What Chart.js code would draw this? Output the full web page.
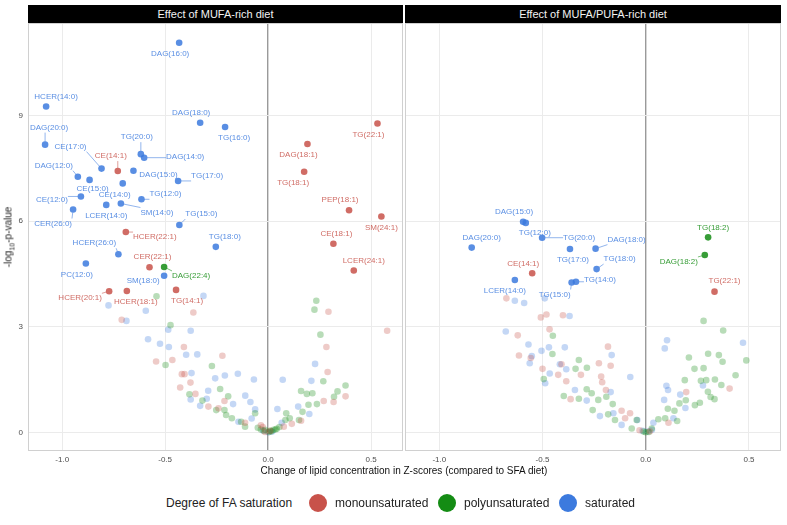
<!DOCTYPE html>
<html>
<head>
<meta charset="utf-8">
<script src="https://cdn.jsdelivr.net/npm/chart.js@4.4.1/dist/chart.umd.min.js"></script>
<style>
  body { margin: 0; width: 787px; height: 525px; background: #fff; overflow: hidden; position: relative;
         font-family: "Liberation Sans", Arial, sans-serif; }
  canvas { position: absolute; top: 23px; }
  .strip { position: absolute; top: 5px; height: 18px; line-height: 18px; background: #000; color: #f2f2f2;
           font-size: 11px; text-align: center; }
  .ytitle { position: absolute; left: 9px; top: 237px; transform: translate(-50%, -50%) rotate(-90deg);
            font-size: 10px; font-weight: normal; color: #222; white-space: nowrap; }
  .xtitle { position: absolute; left: 404px; top: 465px; transform: translateX(-50%); font-size: 10px;
            color: #111; white-space: nowrap; }
  .leg { position: absolute; top: 503px; transform: translateY(-50%); font-size: 12px; color: #222; white-space: nowrap; }
  .dot { position: absolute; top: 503px; width: 18px; height: 18px; border-radius: 50%; transform: translate(-50%, -50%); }
</style>
</head>
<body>
<div class="strip" style="left:28px;width:375px">Effect of MUFA-rich diet</div>
<div class="strip" style="left:405px;width:376px">Effect of MUFA/PUFA-rich diet</div>
<canvas id="mufa-chart" width="403" height="447" style="left:0;width:403px;height:447px"></canvas>
<canvas id="pufa-chart" width="376" height="447" style="left:405px;width:376px;height:447px"></canvas>
<div class="ytitle">-log<sub style="font-size:7px">10</sub>-p-value</div>
<div class="xtitle">Change of lipid concentration in Z-scores (compared to SFA diet)</div>
<div class="leg" style="left:166px">Degree of FA saturation</div>
<div class="dot" style="left:318px;background:rgb(200,82,74)"></div>
<div class="leg" style="left:335px">monounsaturated</div>
<div class="dot" style="left:447px;background:rgb(20,140,20)"></div>
<div class="leg" style="left:464px">polyunsaturated</div>
<div class="dot" style="left:568px;background:rgb(60,122,222)"></div>
<div class="leg" style="left:585px">saturated</div>

<script>
// axis ticks
const xTicks = [-1.0, -0.5, 0.0, 0.5];
const yTicks = [0, 3, 6, 9];

// MUFA-rich diet: labelled lipids
const mufaNames = ['DAG(16:0)', 'HCER(14:0)', 'DAG(18:0)', 'TG(16:0)', 'TG(22:1)', 'DAG(20:0)', 'DAG(18:1)',
    'TG(20:0)', 'DAG(14:0)', 'CE(17:0)', 'CE(14:1)', 'DAG(15:0)', 'TG(17:0)', 'TG(18:1)', 'DAG(12:0)',
    'CE(15:0)', 'CE(14:0)', 'CE(12:0)', 'TG(12:0)', 'LCER(14:0)', 'SM(14:0)', 'CER(26:0)', 'PEP(18:1)',
    'SM(24:1)', 'TG(15:0)', 'HCER(22:1)', 'TG(18:0)', 'CE(18:1)', 'HCER(26:0)', 'LCER(24:1)', 'PC(12:0)',
    'CER(22:1)', 'DAG(22:4)', 'SM(18:0)', 'HCER(20:1)', 'HCER(18:1)', 'TG(14:1)'];
const mufaX = [-0.432, -1.078, -0.330, -0.209, 0.531, -1.083, 0.191, -0.618, -0.602, -0.809, -0.730, -0.654,
    -0.437, 0.175, -0.924, -0.867, -0.706, -0.909, -0.615, -0.786, -0.715, -0.947, 0.393, 0.550, -0.431,
    -0.691, -0.254, 0.317, -0.727, 0.416, -0.885, -0.576, -0.505, -0.505, -0.772, -0.686, -0.447];
const mufaY = [11.06, 9.25, 8.79, 8.67, 8.77, 8.17, 8.19, 7.90, 7.80, 7.49, 7.42, 7.43, 7.14, 7.40, 7.26, 7.17,
    7.07, 6.70, 6.62, 6.46, 6.50, 6.33, 6.31, 6.13, 5.89, 5.69, 5.27, 5.36, 5.06, 4.60, 4.80, 4.69, 4.70,
    4.45, 4.01, 4.02, 4.05];
const mufaSat = ['sat', 'sat', 'sat', 'sat', 'mono', 'sat', 'mono', 'sat', 'sat', 'sat', 'mono', 'sat', 'sat',
    'mono', 'sat', 'sat', 'sat', 'sat', 'sat', 'sat', 'sat', 'sat', 'mono', 'mono', 'sat', 'mono', 'sat',
    'mono', 'sat', 'mono', 'sat', 'mono', 'poly', 'sat', 'mono', 'mono', 'mono'];

// MUFA-rich diet: non-significant lipids
const mufaBgSat = [[-0.314, 3.88], [-0.775, 3.61], [-0.594, 3.46], [-0.688, 3.17], [-0.485, 2.92], [-0.376, 2.89],
    [-0.583, 2.65], [-0.525, 2.52], [-0.482, 2.43], [-0.398, 2.21], [-0.344, 2.22], [-0.372, 1.69], [-0.257, 1.54],
    [-0.210, 1.62], [-0.147, 1.67], [-0.069, 1.51], [0.071, 1.50], [0.228, 1.95], [0.210, 1.47], [-0.291, 1.19],
    [-0.376, 0.94], [-0.330, 0.76], [-0.111, 1.05], [-0.086, 0.87], [-0.063, 0.66], [-0.170, 0.81], [-0.080, 0.40],
    [0.045, 0.67], [0.146, 0.74], [0.200, 0.53], [-0.144, 0.31], [-0.298, 0.96], [0.066, 0.28], [0.000, 0.01],
    [0.020, 0.03], [-0.025, 0.06]];
const mufaBgMono = [[-0.363, 3.41], [-0.711, 3.20], [0.293, 3.43], [0.578, 2.89], [-0.409, 2.43], [0.283, 2.43],
    [-0.544, 2.02], [-0.465, 2.06], [-0.222, 2.18], [-0.419, 1.66], [-0.406, 1.66], [-0.377, 1.42], [-0.427, 1.28],
    [0.289, 1.72], [0.270, 0.90], [0.318, 0.87], [0.376, 1.03], [-0.353, 1.10], [-0.212, 0.90], [-0.290, 0.74],
    [-0.035, 0.21], [-0.026, 0.16], [0.076, 0.17], [0.115, 0.25], [0.160, 0.34], [-0.241, 0.69], [-0.112, 0.28],
    [0.010, 0.05], [-0.015, 0.02]];
const mufaBgPoly = [[-0.542, 3.87], [0.234, 3.74], [0.225, 3.49], [-0.474, 3.05], [0.254, 2.78], [-0.498, 1.92],
    [-0.273, 1.89], [0.268, 1.46], [0.376, 1.34], [0.337, 1.17], [0.160, 1.18], [0.188, 1.10], [0.215, 1.12],
    [0.320, 1.02], [0.237, 0.81], [0.196, 0.79], [0.167, 0.59], [0.150, 0.36], [-0.233, 1.24], [-0.194, 1.03],
    [-0.382, 1.09], [-0.319, 0.91], [-0.252, 0.64], [-0.212, 0.64], [-0.176, 0.41], [-0.131, 0.31], [-0.204, 0.50],
    [0.088, 0.55], [0.105, 0.41], [0.084, 0.36], [0.026, 0.08], [0.010, 0.05], [0.042, 0.11], [-0.015, 0.08],
    [-0.063, 0.55], [-0.112, 0.17], [0.005, 0.02], [0.015, 0.04], [-0.020, 0.05], [0.035, 0.09], [-0.035, 0.09],
    [-0.050, 0.14], [0.055, 0.16]];

// MUFA/PUFA-rich diet: labelled lipids
const pufaNames = ['DAG(15:0)', 'TG(12:0)', 'TG(20:0)', 'DAG(20:0)', 'TG(17:0)', 'DAG(18:0)', 'TG(18:0)',
    'CE(14:1)', 'LCER(14:0)', 'TG(15:0)', 'TG(14:0)', 'TG(18:2)', 'DAG(18:2)', 'TG(22:1)'];
const pufaX = [-0.594, -0.581, -0.502, -0.843, -0.367, -0.243, -0.238, -0.550, -0.634, -0.359, -0.338, 0.302, 0.286, 0.333];
const pufaY = [5.98, 5.95, 5.53, 5.25, 5.21, 5.22, 4.64, 4.52, 4.33, 4.26, 4.28, 5.54, 5.04, 4.00];
const pufaSat = ['sat', 'sat', 'sat', 'sat', 'sat', 'sat', 'sat', 'mono', 'sat', 'sat', 'sat', 'poly', 'poly', 'mono'];

// MUFA/PUFA-rich diet: non-significant lipids
const pufaBgSat = [[-0.634, 3.74], [-0.589, 3.68], [-0.489, 3.81], [-0.369, 3.31], [-0.678, 2.87], [-0.568, 2.50],
    [-0.469, 2.42], [-0.392, 2.42], [-0.505, 2.32], [-0.552, 2.17], [-0.562, 1.97], [-0.165, 2.20], [-0.416, 1.94],
    [-0.385, 1.80], [-0.465, 1.68], [-0.487, 1.40], [-0.075, 1.58], [-0.343, 1.21], [-0.170, 1.15], [-0.286, 0.91],
    [-0.222, 0.47], [-0.117, 0.22], [0.103, 2.62], [0.092, 2.39], [0.471, 2.55], [0.100, 1.33], [0.108, 1.21],
    [0.089, 0.93], [0.167, 1.08], [0.277, 1.34], [0.192, 0.70], [0.134, 0.41], [0.037, 0.28], [-0.041, 0.36],
    [-0.157, 0.55], [0.010, 0.03], [-0.015, 0.05], [0.030, 0.08]];
const pufaBgMono = [[-0.675, 3.81], [-0.508, 3.27], [-0.481, 3.35], [-0.401, 3.33], [-0.466, 2.93], [-0.620, 2.76],
    [-0.614, 2.19], [-0.557, 2.12], [-0.183, 2.44], [-0.227, 1.97], [-0.170, 1.90], [-0.500, 1.81], [-0.424, 1.64],
    [-0.314, 1.64], [-0.385, 1.46], [-0.216, 1.59], [-0.211, 1.43], [-0.193, 1.21], [-0.364, 0.95], [-0.117, 0.62],
    [-0.076, 0.55], [-0.100, 0.41], [0.196, 1.15], [0.406, 1.25], [0.110, 0.28], [-0.408, 1.94], [0.020, 0.04],
    [-0.030, 0.07]];
const pufaBgPoly = [[0.280, 3.17], [0.375, 2.90], [0.302, 2.24], [0.354, 2.20], [0.209, 2.13], [0.372, 2.01],
    [0.487, 2.05], [0.236, 1.81], [0.280, 1.83], [0.435, 1.63], [0.189, 1.49], [0.267, 1.47], [0.293, 1.49],
    [0.335, 1.51], [0.366, 1.35], [0.301, 1.16], [0.314, 1.01], [0.333, 0.95], [0.194, 0.92], [0.238, 0.78],
    [0.262, 0.85], [0.163, 0.83], [0.139, 0.62], [0.152, 0.33], [0.107, 0.68], [0.094, 0.41], [0.061, 0.38],
    [-0.494, 1.52], [-0.450, 2.75], [-0.452, 2.23], [-0.324, 2.06], [-0.285, 1.84], [-0.340, 1.81], [-0.397, 1.04],
    [-0.324, 0.96], [-0.286, 1.23], [-0.262, 1.12], [-0.191, 1.02], [-0.230, 0.93], [-0.160, 0.81], [-0.257, 0.64],
    [-0.182, 0.52], [-0.149, 0.36], [-0.044, 0.36], [-0.068, 0.12], [0.029, 0.12], [0.000, 0.01], [-0.010, 0.03],
    [0.015, 0.02]];

// label offsets in pixels (repel-style placement)
const mufaNudge = {
    'DAG(16:0)': [-9, 11], 'HCER(14:0)': [10, -10], 'DAG(18:0)': [-9, -10], 'TG(16:0)': [9, 11], 'TG(22:1)': [-9, 11],
    'DAG(20:0)': [4, -17], 'DAG(18:1)': [-9, 11], 'TG(20:0)': [-4, -17], 'DAG(14:0)': [41, -1], 'CE(17:0)': [-31, -22],
    'CE(14:1)': [-7, -15], 'DAG(15:0)': [25, 4], 'TG(17:0)': [29, -5], 'TG(18:1)': [-11, 11], 'DAG(12:0)': [-24, -11],
    'CE(15:0)': [3, 9], 'CE(14:0)': [-8, 11], 'CE(12:0)': [-29, 3], 'TG(12:0)': [24, -5], 'LCER(14:0)': [0, 11],
    'SM(14:0)': [36, 9], 'CER(26:0)': [-20, 14], 'PEP(18:1)': [-9, -10], 'SM(24:1)': [0, 11], 'TG(15:0)': [22, -11],
    'HCER(22:1)': [29, 5], 'TG(18:0)': [9, -10], 'CE(18:1)': [3, -10], 'HCER(26:0)': [-24, -11], 'LCER(24:1)': [10, -10],
    'PC(12:0)': [-9, 11], 'CER(22:1)': [3, -11], 'DAG(22:4)': [27, 9], 'SM(18:0)': [-21, 5], 'HCER(20:1)': [-29, 7],
    'HCER(18:1)': [9, 11], 'TG(14:1)': [11, 11]
};
const pufaNudge = {
    'DAG(15:0)': [-9, -10], 'TG(12:0)': [9, 10], 'TG(20:0)': [37, 0], 'DAG(20:0)': [10, -10], 'TG(17:0)': [3, 11],
    'DAG(18:0)': [31, -9], 'TG(18:0)': [23, -10], 'CE(14:1)': [-9, -10], 'LCER(14:0)': [-10, 11], 'TG(15:0)': [-17, 12],
    'TG(14:0)': [24, -2], 'TG(18:2)': [5, -10], 'DAG(18:2)': [-26, 7], 'TG(22:1)': [10, -11]
};

const satColor = { mono: [200, 82, 74], poly: [20, 140, 20], sat: [60, 122, 222] };
const rgba = (c, a) => `rgba(${c[0]}, ${c[1]}, ${c[2]}, ${a})`;

Chart.defaults.font.family = '"Liberation Sans", Arial, sans-serif';
Chart.defaults.color = '#4d4d4d';

function makeLabelPlugin(names, xs, ys, sats, nudge) {
    return {
        id: 'pointLabels',
        afterDatasetsDraw(chart) {
            const { ctx, scales: { x, y } } = chart;
            ctx.save();
            ctx.font = '8px "Liberation Sans", Arial, sans-serif';
            ctx.textAlign = 'center';
            ctx.textBaseline = 'middle';
            names.forEach((name, i) => {
                const px = x.getPixelForValue(xs[i]);
                const py = y.getPixelForValue(ys[i]);
                const [dx, dy] = nudge[name] || [0, -10];
                const tx = px + dx, ty = py + dy;
                const w = ctx.measureText(name).width, h = 8;
                const cx = Math.max(tx - w / 2, Math.min(px, tx + w / 2));
                const cy = Math.max(ty - h / 2 - 1, Math.min(py, ty + h / 2 + 1));
                const dist = Math.hypot(cx - px, cy - py);
                const col = satColor[sats[i]];
                if (dist > 6) {
                    ctx.strokeStyle = rgba(col, 0.7);
                    ctx.lineWidth = 0.8;
                    ctx.beginPath();
                    ctx.moveTo(px + (cx - px) / dist * 3, py + (cy - py) / dist * 3);
                    ctx.lineTo(cx, cy);
                    ctx.stroke();
                }
                ctx.fillStyle = rgba(col, 0.85);
                ctx.fillText(name, tx, ty);
            });
            ctx.restore();
        }
    };
}

const panelBorder = {
    id: 'panelBorder',
    afterDatasetsDraw(chart) {
        const { ctx, chartArea: a } = chart;
        ctx.save();
        ctx.strokeStyle = '#d0d0d0';
        ctx.lineWidth = 1;
        ctx.strokeRect(a.left + 0.5, a.top + 0.5, a.right - a.left - 1, a.bottom - a.top - 1);
        ctx.restore();
    }
};

function pointSet(pairs, sat, alpha) {
    return {
        data: pairs.map(p => ({ x: p[0], y: p[1] })),
        backgroundColor: rgba(satColor[sat], alpha),
        borderWidth: 0,
        pointRadius: 3.3,
        pointHoverRadius: 3.3
    };
}

function buildPanel(canvasId, showY, names, xs, ys, sats, bgMono, bgPoly, bgSat, nudge) {
    const labelled = ['mono', 'poly', 'sat'].map(s => pointSet(
        names.map((n, i) => [xs[i], ys[i], sats[i]]).filter(p => p[2] === s), s, 0.85));
    return new Chart(document.getElementById(canvasId), {
        type: 'scatter',
        data: {
            datasets: [
                pointSet(bgMono, 'mono', 0.3),
                pointSet(bgPoly, 'poly', 0.3),
                pointSet(bgSat, 'sat', 0.3),
                ...labelled
            ]
        },
        options: {
            responsive: false,
            animation: false,
            events: [],
            layout: { padding: 0, autoPadding: false },
            plugins: { legend: { display: false }, tooltip: { enabled: false } },
            scales: {
                x: {
                    type: 'linear', min: -1.166, max: 0.655,
                    afterBuildTicks: s => { s.ticks = xTicks.map(v => ({ value: v })); },
                    afterFit: s => { s.height = 19; s.paddingLeft = 0; s.paddingRight = 0; },
                    ticks: { font: { size: 8 }, padding: 4, callback: v => v.toFixed(1) },
                    grid: {
                        drawTicks: false,
                        color: c => (c.tick && c.tick.value === 0 ? '#9a9a9a' : '#ebebeb'),
                        lineWidth: c => (c.tick && c.tick.value === 0 ? 1.4 : 1)
                    },
                    border: { display: false }
                },
                y: {
                    type: 'linear', min: -0.52, max: 11.62,
                    afterBuildTicks: s => { s.ticks = yTicks.map(v => ({ value: v })); },
                    afterFit: s => { s.width = showY ? 28 : 0; s.paddingTop = 0; s.paddingBottom = 0; },
                    ticks: { display: showY, font: { size: 8 }, padding: 5 },
                    grid: { drawTicks: false, color: '#ebebeb', lineWidth: 1 },
                    border: { display: false }
                }
            }
        },
        plugins: [panelBorder, makeLabelPlugin(names, xs, ys, sats, nudge)]
    });
}

buildPanel('mufa-chart', true, mufaNames, mufaX, mufaY, mufaSat, mufaBgMono, mufaBgPoly, mufaBgSat, mufaNudge);
buildPanel('pufa-chart', false, pufaNames, pufaX, pufaY, pufaSat, pufaBgMono, pufaBgPoly, pufaBgSat, pufaNudge);
</script>
</body>
</html>
